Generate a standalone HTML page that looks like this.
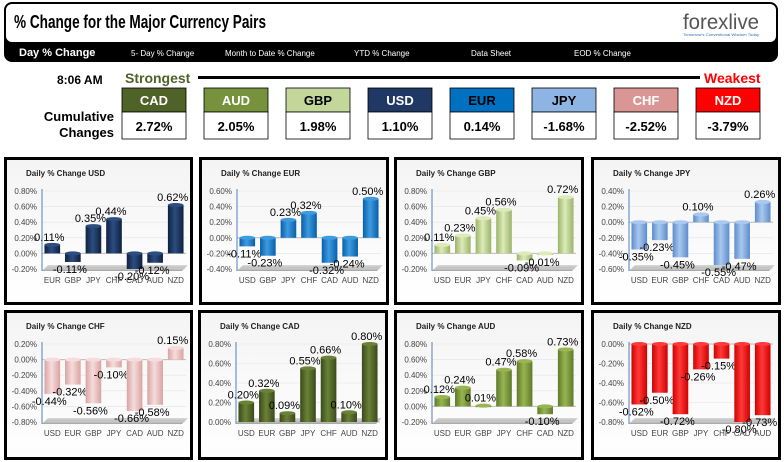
<!DOCTYPE html>
<html><head><meta charset="utf-8">
<style>
html,body{margin:0;padding:0;background:#fff;width:784px;height:462px;overflow:hidden}
svg{display:block}
text{font-family:"Liberation Sans",sans-serif}
</style></head>
<body>
<svg id="root" width="784" height="462" viewBox="0 0 784 462" xmlns="http://www.w3.org/2000/svg">
<defs>
<linearGradient id="panelBg" x1="0" y1="0" x2="0" y2="1"><stop offset="0" stop-color="#f4f4f4"/><stop offset="1" stop-color="#ffffff"/></linearGradient>
<linearGradient id="floorG" x1="0" y1="0" x2="0" y2="1"><stop offset="0" stop-color="#d9d9d9"/><stop offset="1" stop-color="#a6a6a6"/></linearGradient>
</defs>
<g>
<rect x="4" y="2" width="774" height="60" rx="8" fill="#000"/>
<rect x="6" y="4" width="770" height="38" rx="6" fill="#fff"/>
<text x="14" y="28" font-size="18" font-weight="bold" fill="#000" textLength="252" lengthAdjust="spacingAndGlyphs">% Change for the Major Currency Pairs</text>
<text x="683" y="29" font-size="21" font-family="Liberation Serif, serif" fill="#555" textLength="76" lengthAdjust="spacingAndGlyphs">forexlive</text>
<text x="683" y="36" font-size="4" fill="#2a6fb0" textLength="76" lengthAdjust="spacingAndGlyphs">Tomorrow's Conventional Wisdom Today</text>
<text x="19" y="56" font-size="11" font-weight="bold" fill="#fff">Day % Change</text>
<text x="131" y="56" font-size="8" fill="#fff">5- Day % Change</text>
<text x="225" y="56" font-size="8" fill="#fff">Month to Date % Change</text>
<text x="354" y="56" font-size="8" fill="#fff">YTD % Change</text>
<text x="471" y="56" font-size="8" fill="#fff">Data Sheet</text>
<text x="574" y="56" font-size="8" fill="#fff">EOD % Change</text>
</g>
<g id="summary">
<text x="57" y="84" font-size="12" font-weight="bold" fill="#000">8:06 AM</text>
<text x="125" y="83" font-size="14" font-weight="bold" fill="#4f6228">Strongest</text>
<rect x="198" y="76" width="502" height="3" fill="#000"/>
<text x="704" y="83" font-size="14" font-weight="bold" fill="#ff0000">Weakest</text>
<text x="114" y="121" font-size="13" font-weight="bold" text-anchor="end">Cumulative</text>
<text x="114" y="137" font-size="13" font-weight="bold" text-anchor="end">Changes</text>
</g>
<g id="charts"></g>
</svg>
<script>
const sumNames=['CAD','AUD','GBP','USD','EUR','JPY','CHF','NZD'];
const sumVals=['2.72%','2.05%','1.98%','1.10%','0.14%','-1.68%','-2.52%','-3.79%'];

const usdCats=['EUR','GBP','JPY','CHF','CAD','AUD','NZD'];
const usdVals=[0.11,-0.11,0.35,0.44,-0.20,-0.12,0.62];
const usdTicks=[-0.2,0,0.2,0.4,0.6,0.8];
const eurCats=['USD','GBP','JPY','CHF','CAD','AUD','NZD'];
const eurVals=[-0.11,-0.23,0.23,0.32,-0.32,-0.24,0.50];
const eurTicks=[-0.4,-0.2,0,0.2,0.4,0.6];
const gbpCats=['USD','EUR','JPY','CHF','CAD','AUD','NZD'];
const gbpVals=[0.11,0.23,0.45,0.56,-0.09,-0.01,0.72];
const gbpTicks=[-0.2,0,0.2,0.4,0.6,0.8];
const jpyCats=['USD','EUR','GBP','CHF','CAD','AUD','NZD'];
const jpyVals=[-0.35,-0.23,-0.45,0.10,-0.55,-0.47,0.26];
const jpyTicks=[-0.6,-0.4,-0.2,0,0.2,0.4];
const chfCats=['USD','EUR','GBP','JPY','CAD','AUD','NZD'];
const chfVals=[-0.44,-0.32,-0.56,-0.10,-0.66,-0.58,0.15];
const chfTicks=[-0.8,-0.6,-0.4,-0.2,0,0.2];
const cadCats=['USD','EUR','GBP','JPY','CHF','AUD','NZD'];
const cadVals=[0.20,0.32,0.09,0.55,0.66,0.10,0.80];
const cadTicks=[0,0.2,0.4,0.6,0.8];
const audCats=['USD','EUR','GBP','JPY','CHF','CAD','NZD'];
const audVals=[0.12,0.24,0.01,0.47,0.58,-0.10,0.73];
const audTicks=[-0.2,0,0.2,0.4,0.6,0.8];
const nzdCats=['USD','EUR','GBP','JPY','CHF','CAD','AUD'];
const nzdVals=[-0.62,-0.50,-0.72,-0.26,-0.15,-0.80,-0.73];
const nzdTicks=[-0.8,-0.6,-0.4,-0.2,0];

const NS='http://www.w3.org/2000/svg';
function mk(tag,attrs,parent){const e=document.createElementNS(NS,tag);for(const k in attrs)e.setAttribute(k,attrs[k]);if(parent)parent.appendChild(e);return e;}
const colors={CAD:['#4f6228','#fff'],AUD:['#76923c','#fff'],GBP:['#c4d79b','#000'],USD:['#1f3864','#fff'],EUR:['#0070c0','#000'],JPY:['#8db4e2','#000'],CHF:['#da9694','#fff'],NZD:['#ff0000','#fff']};
const barCol={USD:['#0f2040','#2c4d80'],EUR:['#0a5fa8','#3d9be0'],GBP:['#9bb36a','#dcebb8'],JPY:['#5d8ccc','#a9c9ee'],CHF:['#d9a3a3','#f6dcdc'],CAD:['#3a4a1a','#6a8236'],AUD:['#5e7a28','#98b552'],NZD:['#d00000','#ff3a3a']};

const summary=document.getElementById('summary');
sumNames.forEach((n,i)=>{
  const x=122+i*82;
  const g=mk('g',{},summary);
  
  
  const h=mk('rect',{x:x,y:88,width:64,height:24,fill:colors[n][0],stroke:'#000','stroke-width':0.8},g);
  
  
  const ht=mk('text',{x:x+32,y:105,'font-size':13,'font-weight':'bold','text-anchor':'middle',fill:colors[n][1]},g);
  ht.textContent=n;
  
  
  const b=mk('rect',{x:x,y:112,width:64,height:27,fill:'#fff',stroke:'#000','stroke-width':0.8},g);
  
  
  const vt=mk('text',{x:x+32,y:131,'font-size':13,'font-weight':'bold','text-anchor':'middle',fill:'#000'},g);
  vt.textContent=sumVals[i];
  
  
});

const charts=document.getElementById('charts');
function fmt(v){return v.toFixed(2)+'%';}
function drawChart(name,px,py,pw,ph,cats,vals,ticks){
  const g=mk('g',{},charts);
  
  
  const fr=mk('rect',{x:px+1.5,y:py+1.5,width:pw-3,height:ph-3,fill:'url(#panelBg)',stroke:'#000','stroke-width':3},g);
  
  
  const t=mk('text',{x:px+22,y:py+19,'font-size':8,'font-weight':'bold',fill:'#222'},g);
  t.textContent='Daily % Change '+name;
  
  
  const left=px+38,right=px+182,top=py+34,bot=py+112;
  const mn=ticks[0],mx=ticks[ticks.length-1];
  const y=v=>bot-(v-mn)/(mx-mn)*(bot-top);
  const band=(right-left)/cats.length;
  const xc=i=>left+band*(i+0.5);
  const floor=mk('polygon',{points:`${left},${bot+2} ${right-4},${bot+2} ${right+2},${bot-4} ${left+6},${bot-4}`,fill:'url(#floorG)'},g);
  
  
  ticks.forEach(tv=>{
    const gl=mk('line',{x1:left,x2:right,y1:y(tv),y2:y(tv),stroke:tv===0?'#bbb':'#e4e4e4','stroke-width':tv===0?1:0.6},g);
    
    
    const tl=mk('text',{x:left-5,y:y(tv)+3,'font-size':8,'text-anchor':'end',fill:'#444'},g);
    tl.textContent=fmt(tv);
    
    
  });
  const ax=mk('line',{x1:left,x2:left,y1:top-2,y2:bot+2,stroke:'#4f81bd','stroke-width':1},g);
  
  
  const gid='g'+name;
  const lg=mk('linearGradient',{id:gid,x1:0,y1:0,x2:1,y2:0},g);
  mk('stop',{offset:0,'stop-color':barCol[name][0]},lg);
  mk('stop',{offset:0.45,'stop-color':barCol[name][1]},lg);
  mk('stop',{offset:1,'stop-color':barCol[name][0]},lg);
  const bw=band*0.76;
  cats.forEach((c,i)=>{
    const v=vals[i];
    const y0=y(0),y1=y(v);
    const yt=Math.min(y0,y1),h=Math.max(Math.abs(y1-y0),1.5);
    const cx=xc(i);
    const r=mk('rect',{x:cx-bw/2,y:yt,width:bw,height:h,fill:'url(#'+gid+')'},g);
    
    
    const cap=mk('ellipse',{cx:cx,cy:yt,rx:bw/2,ry:2,fill:barCol[name][1]},g);
    
    
    const vl=mk('text',{x:cx-3,y:v>=0?yt-4:yt+h+11,'font-size':11,'text-anchor':'middle',fill:'#000'},g);
    vl.textContent=fmt(v);
    
    
    const cl=mk('text',{x:cx,y:bot+14,'font-size':8,'text-anchor':'middle',fill:'#444'},g);
    cl.textContent=c;
    
    
  });
}
drawChart('USD',4,157,189,148,usdCats,usdVals,usdTicks);
drawChart('EUR',199,157,190,148,eurCats,eurVals,eurTicks);
drawChart('GBP',394,157,190,148,gbpCats,gbpVals,gbpTicks);
drawChart('JPY',591,157,190,148,jpyCats,jpyVals,jpyTicks);
drawChart('CHF',4,310,189,150,chfCats,chfVals,chfTicks);
drawChart('CAD',198,310,190,150,cadCats,cadVals,cadTicks);
drawChart('AUD',394,310,190,150,audCats,audVals,audTicks);
drawChart('NZD',591,310,190,150,nzdCats,nzdVals,nzdTicks);
</script>
</body></html>
